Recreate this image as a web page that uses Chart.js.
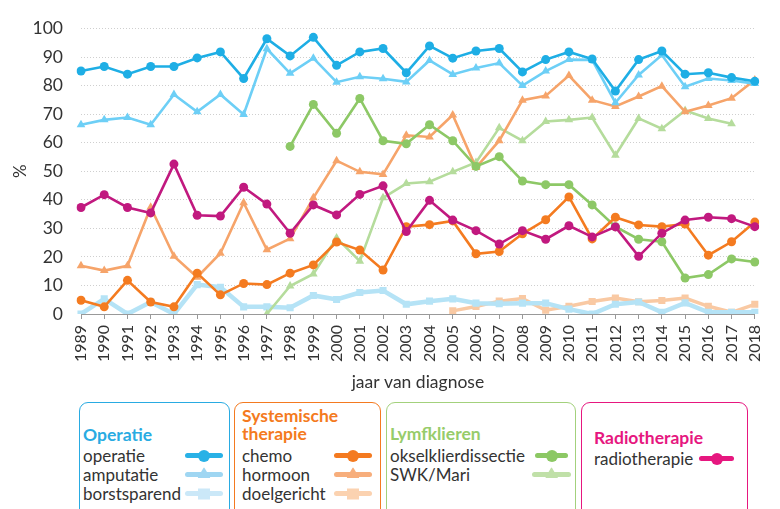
<!DOCTYPE html>
<html>
<head>
<meta charset="utf-8">
<script src="https://cdn.jsdelivr.net/npm/chart.js@4"></script>
<style>
  body { margin: 0; background: #fff; font-family: Lato, "Noto Sans", sans-serif; }
  #wrap { position: relative; width: 780px; height: 509px; overflow: hidden; }
  #chartCanvas { position: absolute; left: 0; top: 0; }
  .box { position: absolute; top: 402px; height: 130px; border: 1.3px solid; border-radius: 9px; box-sizing: border-box; }
  .ttl { position: absolute; font-weight: bold; font-size: 17.5px; line-height: 18px; }
  .item { position: absolute; font-size: 17px; color: #333; line-height: 19px; white-space: nowrap; }
  .sw { position: absolute; height: 5px; border-radius: 3px; }
  .sw .mk { position: absolute; left: 50%; top: 50%; transform: translate(-50%, -50%); }
  .mk.circle { width: 12px; height: 12px; border-radius: 50%; }
  .mk.tri { width: 13px; height: 11px; clip-path: polygon(50% 0, 100% 100%, 0 100%); margin-top: -2px; }
  .mk.sq { width: 12px; height: 11px; }
</style>
</head>
<body>
<div id="wrap">
  <canvas id="chartCanvas" width="780" height="400"></canvas>

  <div class="box" style="left:79px;width:151px;border-color:#29abe2"></div>
  <div class="box" style="left:234px;width:147px;border-color:#f47a20"></div>
  <div class="box" style="left:386px;width:190px;border-color:#a3d17c"></div>
  <div class="box" style="left:581px;width:167px;border-color:#e6177f"></div>
  <div id="legend"></div>
</div>

<script>
// jaren
const years = ['1989','1990','1991','1992','1993','1994','1995','1996','1997','1998','1999','2000','2001','2002','2003','2004','2005','2006','2007','2008','2009','2010','2011','2012','2013','2014','2015','2016','2017','2018'];
const yTicks = [0, 10, 20, 30, 40, 50, 60, 70, 80, 90, 100];

// Operatie
const operatie = [85.1, 86.7, 84.0, 86.7, 86.7, 89.7, 91.8, 82.5, 96.4, 90.4, 96.9, 87.1, 91.8, 93.0, 84.5, 93.9, 89.6, 92.1, 93.0, 84.8, 89.1, 91.8, 89.3, 78.1, 89.1, 92.1, 84.0, 84.5, 82.8, 81.5];
const amputatie = [66.3, 68.0, 68.8, 66.3, 76.9, 70.8, 76.9, 69.9, 92.9, 84.3, 89.6, 81.2, 83.1, 82.4, 81.3, 88.8, 83.9, 86.2, 87.9, 80.0, 85.1, 89.1, 89.0, 74.0, 83.7, 90.7, 79.6, 82.5, 81.8, 80.7];
const borstsparend = [0, 5.3, 0, 4.2, 0, 10.3, 9.4, 2.5, 2.5, 2.2, 6.5, 5.1, 7.5, 8.2, 3.4, 4.5, 5.3, 3.8, 3.6, 3.8, 3.8, 1.7, 0, 3.4, 4.2, 0.6, 3.9, 0.6, 0.6, 0.6];

// Systemische therapie
const chemo = [4.8, 2.5, 11.8, 4.2, 2.5, 14.3, 6.7, 10.7, 10.3, 14.3, 17.2, 25.2, 22.4, 15.4, 30.6, 31.3, 32.6, 21.1, 21.9, 28.1, 33.0, 41.0, 26.3, 33.9, 31.2, 30.6, 31.5, 20.6, 25.3, 32.2];
const hormoon = [16.9, 15.2, 16.9, 37.4, 20.2, 12.9, 21.3, 39.0, 22.5, 26.4, 40.7, 53.7, 49.8, 48.9, 62.6, 62.0, 69.7, 51.3, 60.7, 74.9, 76.4, 83.5, 74.9, 72.7, 76.2, 79.8, 70.8, 73.0, 75.6, 82.0];
const doelgericht = [null, null, null, null, null, null, null, null, null, null, null, null, null, null, null, null, 1.1, 2.6, 4.5, 5.4, 1.3, 2.7, 4.4, 5.6, 4.3, 4.7, 5.6, 2.7, 0.6, 3.4];

// Lymfklieren
const okselklier = [null, null, null, null, null, null, null, null, null, 58.7, 73.4, 63.3, 75.5, 60.7, 59.6, 66.3, 60.7, 51.7, 55.1, 46.6, 45.3, 45.3, 38.2, 30.6, 26.2, 25.3, 12.6, 13.8, 19.3, 18.2];
const swkMari = [null, null, null, null, null, null, null, null, 0, 9.8, 14.0, 26.6, 18.5, 40.7, 45.7, 46.3, 49.8, 53.1, 65.2, 60.7, 67.4, 68.0, 68.8, 55.6, 68.5, 64.9, 71.3, 68.5, 66.6, null];

// Radiotherapie
const radiotherapie = [37.3, 41.8, 37.3, 35.4, 52.5, 34.6, 34.3, 44.4, 38.5, 28.3, 38.2, 34.7, 41.9, 44.9, 28.9, 39.8, 32.9, 29.2, 24.5, 29.2, 26.2, 30.9, 27.0, 30.5, 20.2, 28.3, 32.9, 33.9, 33.4, 30.6];

function ds(label, data, color, style, width, radius) {
  return {
    label: label,
    data: data,
    borderColor: color,
    backgroundColor: color,
    borderWidth: width,
    pointStyle: style,
    pointRadius: radius,
    pointBorderWidth: 0,
    tension: 0,
    spanGaps: false
  };
}

const ctx = document.getElementById('chartCanvas').getContext('2d');

new Chart(ctx, {
  type: 'line',
  data: {
    labels: years,
    datasets: [
      ds('operatie', operatie, '#1eaee5', 'circle', 2.6, 4.5),
      ds('radiotherapie', radiotherapie, '#c1197f', 'circle', 2.6, 4.5),
      ds('chemo', chemo, '#f47b20', 'circle', 2.6, 4.5),
      ds('okselklierdissectie', okselklier, '#8dc866', 'circle', 2.6, 4.5),
      ds('amputatie', amputatie, '#6dcff6', 'triangle', 2.6, 5),
      ds('hormoon', hormoon, '#f6a46a', 'triangle', 2.6, 5),
      ds('SWK/Mari', swkMari, '#b5dc9c', 'triangle', 2.6, 5),
      ds('borstsparend', borstsparend, '#b5e3f6', 'rect', 4.5, 5),
      ds('doelgericht', doelgericht, '#f9c9a3', 'rect', 3.5, 5)
    ]
  },
  options: {
    responsive: false,
    animation: false,
    layout: { padding: { top: 17, right: 15, bottom: 3, left: 0 } },
    plugins: { legend: { display: false }, tooltip: { enabled: false } },
    scales: {
      x: {
        offset: false,
        grid: { drawOnChartArea: false, drawTicks: true, tickLength: 5, color: '#999' },
        border: { display: true, color: '#999' },
        ticks: { maxRotation: 90, minRotation: 90, padding: 6, color: '#333', font: { family: 'Lato', size: 16 } },
        title: { display: true, text: 'jaar van diagnose', color: '#333', padding: 4, font: { family: 'Lato', size: 17.5 } },
        afterFit: (scale) => { scale.height = 83; }
      },
      y: {
        min: 0,
        max: 100,
        afterBuildTicks: (scale) => { scale.ticks = yTicks.map(v => ({ value: v })); },
        grid: { drawTicks: false, color: '#cfcfcf', lineWidth: 1 },
        border: { display: false, dash: [1, 2] },
        ticks: { padding: 18, color: '#333', font: { family: 'Lato', size: 17.5 } },
        title: { display: true, text: '%', color: '#333', padding: { top: 10, bottom: 0 }, font: { family: 'Lato', size: 17 } },
        afterFit: (scale) => { scale.width = 81; }
      }
    }
  }
});

// legenda
const legendItems = [
  { type: 'ttl', text: 'Operatie', x: 83, y: 426, color: '#29abe2' },
  { type: 'item', text: 'operatie', x: 83, y: 446, color: '#29b1e6', mk: 'circle', sx: 185, sw: 38 },
  { type: 'item', text: 'amputatie', x: 83, y: 465, color: '#9fd6f2', mk: 'tri', sx: 185, sw: 38 },
  { type: 'item', text: 'borstsparend', x: 83, y: 484, color: '#cbe8f8', mk: 'sq', sx: 185, sw: 38 },

  { type: 'ttl', text: 'Systemische', x: 242, y: 407, color: '#f47a20' },
  { type: 'ttl', text: 'therapie', x: 242, y: 425, color: '#f47a20' },
  { type: 'item', text: 'chemo', x: 242, y: 446, color: '#f47a20', mk: 'circle', sx: 334, sw: 38 },
  { type: 'item', text: 'hormoon', x: 242, y: 465, color: '#f7ae7c', mk: 'tri', sx: 334, sw: 38 },
  { type: 'item', text: 'doelgericht', x: 242, y: 484, color: '#fbd2b0', mk: 'sq', sx: 334, sw: 38 },

  { type: 'ttl', text: 'Lymfklieren', x: 390, y: 425, color: '#97cc6a' },
  { type: 'item', text: 'okselklierdissectie', x: 390, y: 446, color: '#8cc864', mk: 'circle', sx: 535, sw: 33 },
  { type: 'item', text: 'SWK/Mari', x: 390, y: 465, color: '#c0e0a8', mk: 'tri', sx: 532, sw: 39 },

  { type: 'ttl', text: 'Radiotherapie', x: 594, y: 429, color: '#e6177f' },
  { type: 'item', text: 'radiotherapie', x: 594, y: 449, color: '#e6177f', mk: 'circle', sx: 699, sw: 35 }
];

const legend = document.getElementById('legend');
legendItems.forEach(it => {
  const el = document.createElement('div');
  el.className = it.type;
  el.textContent = it.text;
  el.style.left = it.x + 'px';
  el.style.top = it.y + 'px';
  if (it.type === 'ttl') el.style.color = it.color;
  legend.appendChild(el);

  if (it.mk) {
    const sw = document.createElement('div');
    sw.className = 'sw';
    sw.style.left = it.sx + 'px';
    sw.style.width = it.sw + 'px';
    sw.style.top = (it.y + 7) + 'px';
    sw.style.background = it.color;
    const mk = document.createElement('div');
    mk.className = 'mk ' + it.mk;
    mk.style.background = it.color;
    sw.appendChild(mk);
    legend.appendChild(sw);
  }
});
</script>
</body>
</html>
